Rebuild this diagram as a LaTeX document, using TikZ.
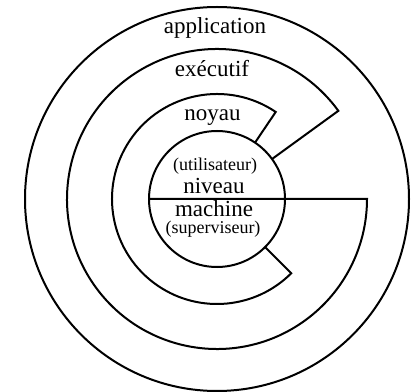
\documentclass[tikz,border=0pt]{standalone}
\usepackage{fontspec}
\setmainfont{Liberation Serif}
\begin{document}
\begin{tikzpicture}[x=1pt,y=1pt,line width=2pt,
  big/.style={font=\fontsize{23}{27}\selectfont,anchor=base,inner sep=0pt},
  small/.style={font=\fontsize{18}{21}\selectfont,anchor=base,inner sep=0pt}]
\useasboundingbox (0,0) rectangle (412,391);
\coordinate (c) at (217,192);
% outer (application) circle
\draw (c) circle[radius=192pt];
% central circle
\draw (c) circle[radius=68pt];
% noyau ring
\draw ([shift={(56:68pt)}]c) -- ([shift={(56:105pt)}]c)
  arc[start angle=56,end angle=315,radius=105pt] -- ([shift={(315:68pt)}]c);
% executif ring, with the horizontal diameter
\draw ([shift={(36:68pt)}]c) -- ([shift={(36:150pt)}]c)
  arc[start angle=36,end angle=360,radius=150pt] -- ([shift={(180:68pt)}]c);
% labels
\node[big] (app) at (215,357) {application};
\node[big] (exe) at (212,314.3) {exécutif};
\node[big] (noy) at (212.5,270) {noyau};
\node[small] (uti) at (215,220.8) {(utilisateur)};
\node[big] (niv) at (214,197) {niveau};
\node[big] (mac) at (214,174.8) {machine};
\node[small] (sup) at (213,157.8) {(superviseur)};
\end{tikzpicture}
\end{document}
